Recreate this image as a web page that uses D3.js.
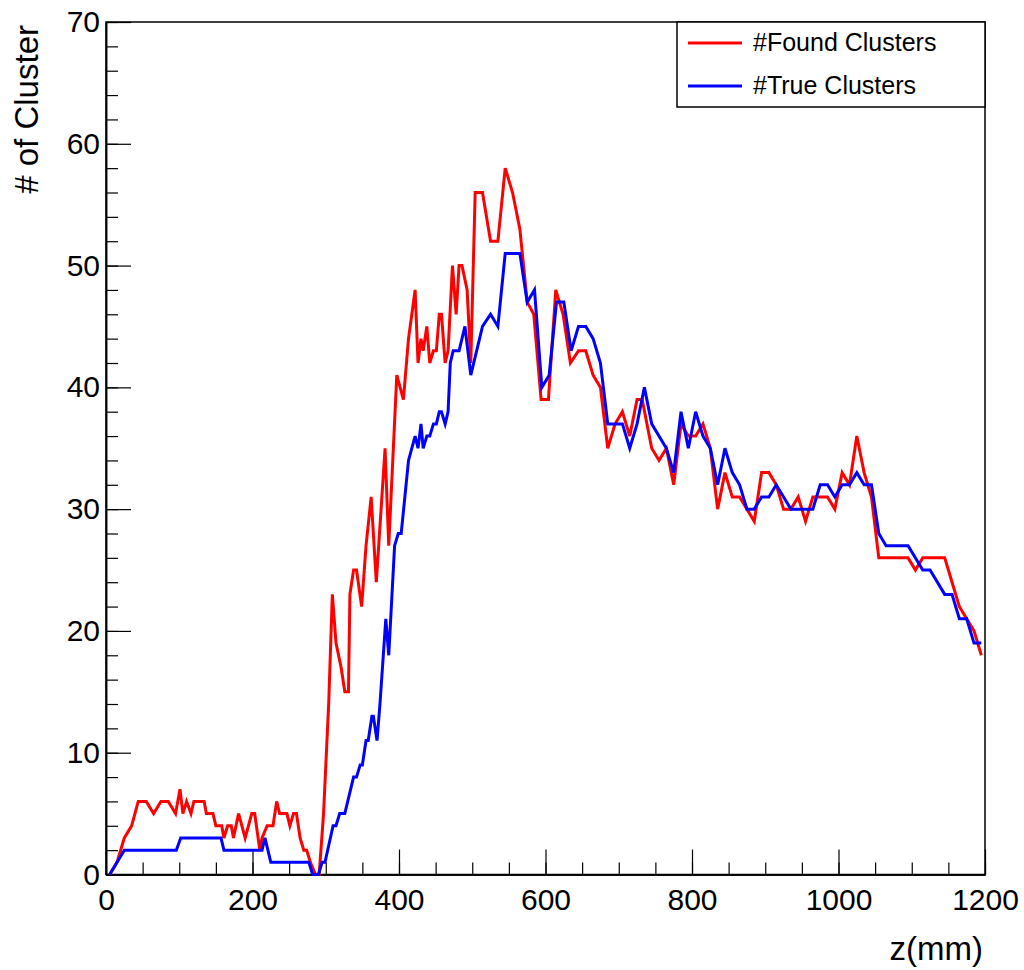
<!DOCTYPE html>
<html>
<head>
<meta charset="utf-8">
<script src="https://cdn.jsdelivr.net/npm/d3@7"></script>
<style>
  body { margin: 0; background: #fff; }
  text { font-family: "Liberation Sans", Arial, Helvetica, sans-serif; }
</style>
</head>
<body>
<svg width="1024" height="970"></svg>
<script>
// DATA
const foundZ = [5, 15, 25, 35, 44, 55, 65, 75, 85, 95, 101, 105, 110, 116, 120, 134, 137, 146, 150, 158,
  161, 166, 171, 174, 181, 190, 199, 203, 210, 213, 220, 228, 233, 237, 247, 251, 256, 260, 265, 270,
  274, 279, 286, 291, 297, 304, 309, 314, 321, 326, 331, 333, 338, 342, 349, 355, 362, 369, 381, 386,
  397, 406, 413, 422, 426, 430, 433, 438, 442, 447, 451, 455, 458, 463, 467, 473, 478, 482, 486, 493,
  498, 504, 514, 525, 535, 545, 555, 565, 575, 584, 594, 604, 614, 624, 634, 645, 655, 665, 675, 685,
  695, 705, 715, 725, 732, 745, 755, 765, 775, 785, 795, 805, 815, 825, 835, 845, 855, 865, 875, 885,
  895, 905, 915, 925, 935, 945, 955, 965, 985, 995, 1005, 1015, 1025, 1035, 1045, 1055, 1095, 1105, 1115, 1145,
  1155, 1165, 1175, 1185, 1195];
const foundN = [0, 1, 3, 4, 6, 6, 5, 6, 6, 5, 7, 5, 6, 5, 6, 6, 5, 5, 4, 4,
  3, 4, 4, 3, 5, 3, 5, 5, 2, 3, 4, 4, 6, 5, 5, 4, 5, 5, 3, 2,
  2, 1, 0, 0, 5, 14, 23, 19, 17, 15, 15, 23, 25, 25, 22, 27, 31, 24, 35, 27,
  41, 39, 44, 48, 42, 44, 43, 45, 42, 43, 43, 46, 46, 42, 43, 50, 46, 50, 50, 48,
  42, 56, 56, 52, 52, 58, 56, 53, 47, 46, 39, 39, 48, 46, 42, 43, 43, 41, 40, 35,
  37, 38, 36, 39, 39, 35, 34, 35, 32, 37, 36, 36, 37, 35, 30, 33, 31, 31, 30, 29,
  33, 33, 32, 30, 30, 31, 29, 31, 31, 30, 33, 32, 36, 33, 31, 26, 26, 25, 26, 26,
  24, 22, 21, 20, 18];

const trueZ = [5, 25, 96, 102, 157, 161, 213, 217, 225, 277, 282, 290, 295, 299, 310, 314, 319, 326, 338, 342,
  347, 350, 355, 358, 363, 365, 370, 374, 382, 386, 394, 399, 403, 413, 422, 426, 430, 433, 438, 442,
  447, 451, 455, 458, 463, 467, 470, 474, 482, 490, 498, 506, 514, 525, 535, 545, 565, 575, 585, 595,
  605, 615, 625, 635, 645, 655, 665, 675, 685, 705, 715, 725, 735, 745, 765, 775, 785, 795, 805, 815,
  825, 835, 845, 855, 865, 875, 885, 895, 905, 915, 925, 935, 965, 975, 985, 995, 1005, 1015, 1025, 1035,
  1045, 1055, 1065, 1095, 1115, 1125, 1145, 1155, 1165, 1175, 1185, 1195];
const trueN = [0, 2, 2, 3, 3, 2, 2, 3, 1, 1, 0, 0, 1, 1, 4, 4, 5, 5, 8, 8,
  9, 9, 11, 11, 13, 13, 11, 14, 21, 18, 27, 28, 28, 34, 36, 35, 37, 35, 36, 36,
  37, 37, 38, 38, 37, 38, 42, 43, 43, 45, 41, 43, 45, 46, 45, 51, 51, 47, 48, 40,
  41, 47, 47, 43, 45, 45, 44, 42, 37, 37, 35, 37, 40, 37, 35, 33, 38, 35, 38, 36,
  35, 32, 35, 33, 32, 30, 30, 31, 31, 32, 31, 30, 30, 32, 32, 31, 32, 32, 33, 32,
  32, 28, 27, 27, 25, 25, 23, 23, 21, 21, 19, 19];

const seriesNames = ["#Found Clusters", "#True Clusters"];
const seriesColors = ["#ff0000", "#0000ff"];

const xMajor = [0, 200, 400, 600, 800, 1000, 1200];
const yMajor = [0, 10, 20, 30, 40, 50, 60, 70];

// LAYOUT
const svg = d3.select("svg");
const frame = { left: 106, right: 985, top: 22, bottom: 874.5 };

const xScale = d3.scaleLinear().domain([0, 1200]).range([frame.left, frame.right]);
const yScale = d3.scaleLinear().domain([0, 70]).range([frame.bottom, frame.top]);

// frame box
svg.append("rect")
  .attr("x", frame.left).attr("y", frame.top)
  .attr("width", frame.right - frame.left).attr("height", frame.bottom - frame.top)
  .attr("fill", "none").attr("stroke", "#000").attr("stroke-width", 1.5);

// axes: ticks point inward like ROOT
const gx = svg.append("g").attr("transform", `translate(0,${frame.bottom})`);
gx.call(d3.axisBottom(xScale).tickValues(d3.range(0, 1201, 50)).tickSize(-12).tickSizeOuter(0).tickFormat(""));
gx.append("g").call(d3.axisBottom(xScale).tickValues(xMajor).tickSize(-25).tickSizeOuter(0)
  .tickPadding(14).tickFormat(d3.format("d")));

const gy = svg.append("g").attr("transform", `translate(${frame.left},0)`);
gy.call(d3.axisLeft(yScale).tickValues(d3.range(0, 71, 2)).tickSize(-12).tickSizeOuter(0).tickFormat(""));
gy.append("g").call(d3.axisLeft(yScale).tickValues(yMajor).tickSize(-25).tickSizeOuter(0)
  .tickPadding(6).tickFormat(d3.format("d")));

svg.selectAll(".tick line").attr("stroke", "#000").attr("stroke-width", 1.2);
svg.selectAll(".domain").attr("stroke", "#000").attr("stroke-width", 1.5);
svg.selectAll(".tick text").attr("font-size", 30).attr("fill", "#000")
  .style("font-family", '"Liberation Sans", Arial, Helvetica, sans-serif');

// axis titles
svg.append("text")
  .attr("x", 983).attr("y", 960)
  .attr("text-anchor", "end").attr("font-size", 33)
  .text("z(mm)");

svg.append("text")
  .attr("transform", "translate(38,25) rotate(-90)")
  .attr("text-anchor", "end").attr("font-size", 33)
  .text("# of Cluster");

// lines
const line = d3.line().x(d => xScale(d[0])).y(d => yScale(d[1]));
const series = [d3.zip(foundZ, foundN), d3.zip(trueZ, trueN)];

svg.append("g").selectAll("path")
  .data(series)
  .enter().append("path")
  .attr("d", line)
  .attr("fill", "none")
  .attr("stroke", (d, i) => seriesColors[i])
  .attr("stroke-width", 3);

// legend
const legend = svg.append("g");
legend.append("rect")
  .attr("x", 677).attr("y", 22).attr("width", 308).attr("height", 85)
  .attr("fill", "#fff").attr("stroke", "#000").attr("stroke-width", 1.5);

const items = legend.selectAll("g.item")
  .data(seriesNames)
  .enter().append("g")
  .attr("class", "item")
  .attr("transform", (d, i) => `translate(0,${43 + i * 43})`);

items.append("line")
  .attr("x1", 688).attr("x2", 742)
  .attr("stroke", (d, i) => seriesColors[i])
  .attr("stroke-width", 3);

items.append("text")
  .attr("x", 753).attr("y", 8)
  .attr("font-size", 25)
  .text(d => d);
</script>
</body>
</html>
